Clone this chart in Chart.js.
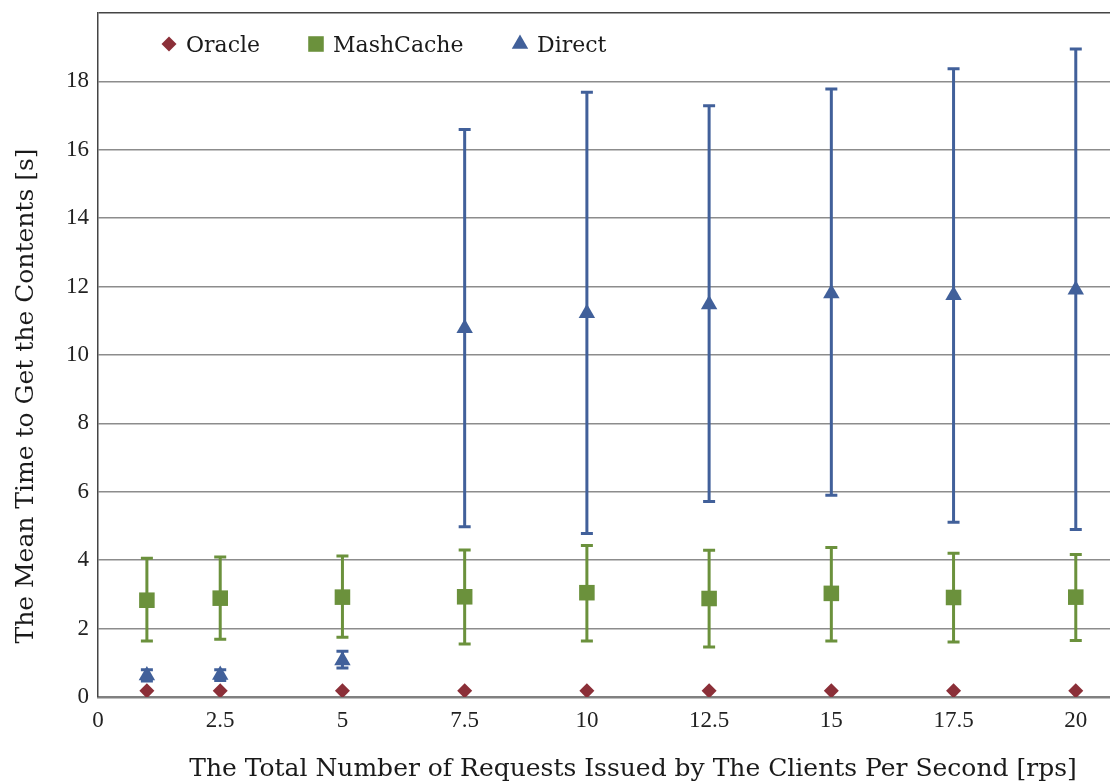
<!DOCTYPE html>
<html>
<head>
<meta charset="utf-8">
<script src="https://cdn.jsdelivr.net/npm/chart.js@4.4.1/dist/chart.umd.min.js"></script>
<style>
  html, body { margin: 0; padding: 0; background: #fff; overflow: hidden; }
  /* canvas is a little wider than the page so the plot runs off the right edge */
  #wrap { width: 1110px; height: 783px; overflow: hidden; }
  canvas { display: block; }
</style>
</head>
<body>
<div id="wrap"><canvas id="chart" width="1121" height="783"></canvas></div>
<script>
// request rates (rps) where each series was measured
var rates = [1, 2.5, 5, 7.5, 10, 12.5, 15, 17.5, 20];

var oracleMean = [0.18, 0.18, 0.18, 0.18, 0.18, 0.18, 0.18, 0.18, 0.18];

var mashMean = [2.83, 2.89, 2.92, 2.93, 3.05, 2.88, 3.03, 2.91, 2.92];
var mashLow  = [1.64, 1.69, 1.75, 1.55, 1.64, 1.46, 1.64, 1.61, 1.65];
var mashHigh = [4.06, 4.09, 4.12, 4.30, 4.43, 4.29, 4.37, 4.20, 4.17];

var directMean = [0.63, 0.64, 1.07, 10.78, 11.22, 11.48, 11.80, 11.75, 11.91];
var directLow  = [0.47, 0.48, 0.85, 4.98, 4.78, 5.72, 5.90, 5.11, 4.90];
var directHigh = [0.80, 0.80, 1.34, 16.59, 17.68, 17.29, 17.78, 18.37, 18.95];

var xTicks = [0, 2.5, 5, 7.5, 10, 12.5, 15, 17.5, 20];
var yTicks = [0, 2, 4, 6, 8, 10, 12, 14, 16, 18, 20];

var xTitle = 'The Total Number of Requests Issued by The Clients Per Second [rps]';
var yTitle = 'The Mean Time to Get the Contents [s]';

var TICK_FONT = "'Liberation Serif', serif";
var TEXT_FONT = "'DejaVu Serif', serif";

function points(ys) {
    return rates.map(function (r, i) { return { x: r, y: ys[i] }; });
}

// vertical error bars with caps, drawn under the markers
var errorBars = {
    id: 'errorBars',
    beforeDatasetsDraw: function (chart) {
        var ctx = chart.ctx;
        var xs = chart.scales.x, ys = chart.scales.y;
        chart.data.datasets.forEach(function (ds) {
            if (!ds.errLow) return;
            ctx.save();
            ctx.strokeStyle = ds.backgroundColor;
            ctx.lineWidth = 3;
            ds.data.forEach(function (p, i) {
                var x = xs.getPixelForValue(p.x);
                var top = ys.getPixelForValue(ds.errHigh[i]);
                var bot = ys.getPixelForValue(ds.errLow[i]);
                ctx.beginPath();
                ctx.moveTo(x, top); ctx.lineTo(x, bot);
                ctx.moveTo(x - 6, top); ctx.lineTo(x + 6, top);
                ctx.moveTo(x - 6, bot); ctx.lineTo(x + 6, bot);
                ctx.stroke();
            });
            ctx.restore();
        });
    }
};

// legend inside the plot and the two axis titles
var legendOffsets = [71, 218, 422];
var decorations = {
    id: 'decorations',
    afterDraw: function (chart) {
        var ctx = chart.ctx, area = chart.chartArea;
        ctx.save();
        ctx.textBaseline = 'alphabetic';
        ctx.font = '22px ' + TEXT_FONT;
        chart.data.datasets.forEach(function (ds, i) {
            var x = area.left + legendOffsets[i];
            var y = area.top + 31;
            ctx.fillStyle = ds.backgroundColor;
            Chart.helpers.drawPoint(ctx, {
                pointStyle: ds.pointStyle, radius: ds.pointRadius, rotation: 0, borderWidth: 0
            }, x, y);
            ctx.fillStyle = '#1a1a1a';
            ctx.textAlign = 'left';
            ctx.fillText(ds.label, x + 17, y + 8);
        });

        ctx.font = '25px ' + TEXT_FONT;
        ctx.textAlign = 'center';
        ctx.fillText(xTitle, 633, 776);
        ctx.translate(33, 396);
        ctx.rotate(-Math.PI / 2);
        ctx.fillText(yTitle, 0, 0);
        ctx.restore();
    }
};

var ctx = document.getElementById('chart').getContext('2d');
Chart.defaults.font.family = TICK_FONT;

var chart = new Chart(ctx, {
    type: 'scatter',
    data: {
        datasets: [{
            label: 'Oracle',
            data: points(oracleMean),
            pointStyle: 'rectRot',
            pointRadius: 7.5,
            backgroundColor: '#8b2f38',
            borderWidth: 0
        }, {
            label: 'MashCache',
            data: points(mashMean),
            errLow: mashLow,
            errHigh: mashHigh,
            pointStyle: 'rect',
            pointRadius: 11,
            backgroundColor: '#6b913c',
            borderWidth: 0
        }, {
            label: 'Direct',
            data: points(directMean),
            errLow: directLow,
            errHigh: directHigh,
            pointStyle: 'triangle',
            pointRadius: 9.5,
            backgroundColor: '#41609a',
            borderWidth: 0
        }]
    },
    options: {
        responsive: false,
        animation: false,
        layout: { padding: { top: 13, left: 0, right: 0, bottom: 0 } },
        plugins: {
            legend: { display: false },
            tooltip: { enabled: false }
        },
        scales: {
            x: {
                type: 'linear',
                min: 0,
                max: 20.7,
                afterBuildTicks: function (scale) {
                    scale.ticks = xTicks.map(function (v) { return { value: v }; });
                },
                afterFit: function (scale) {
                    scale.height = 86;
                },
                grid: { display: false, drawTicks: false },
                border: { color: '#808080', width: 2.5 },
                ticks: {
                    color: '#222',
                    padding: 10,
                    maxRotation: 0,
                    font: { size: 23 }
                }
            },
            y: {
                min: 0,
                max: 20,
                afterBuildTicks: function (scale) {
                    scale.ticks = yTicks.map(function (v) { return { value: v }; });
                },
                afterFit: function (scale) {
                    scale.width = 98;
                    scale.paddingTop = 0;
                    scale.paddingBottom = 0;
                },
                grid: {
                    drawTicks: false,
                    color: function (c) { return c.tick && c.tick.value === 20 ? '#444' : '#8c8c8c'; },
                    lineWidth: function (c) { return c.tick && c.tick.value === 0 ? 0 : 1.5; }
                },
                border: { color: '#444', width: 1.5 },
                ticks: {
                    color: '#222',
                    padding: 9,
                    font: { size: 23 },
                    callback: function (v) { return v === 20 ? '' : v; }
                }
            }
        }
    },
    plugins: [errorBars, decorations]
});
</script>
</body>
</html>
